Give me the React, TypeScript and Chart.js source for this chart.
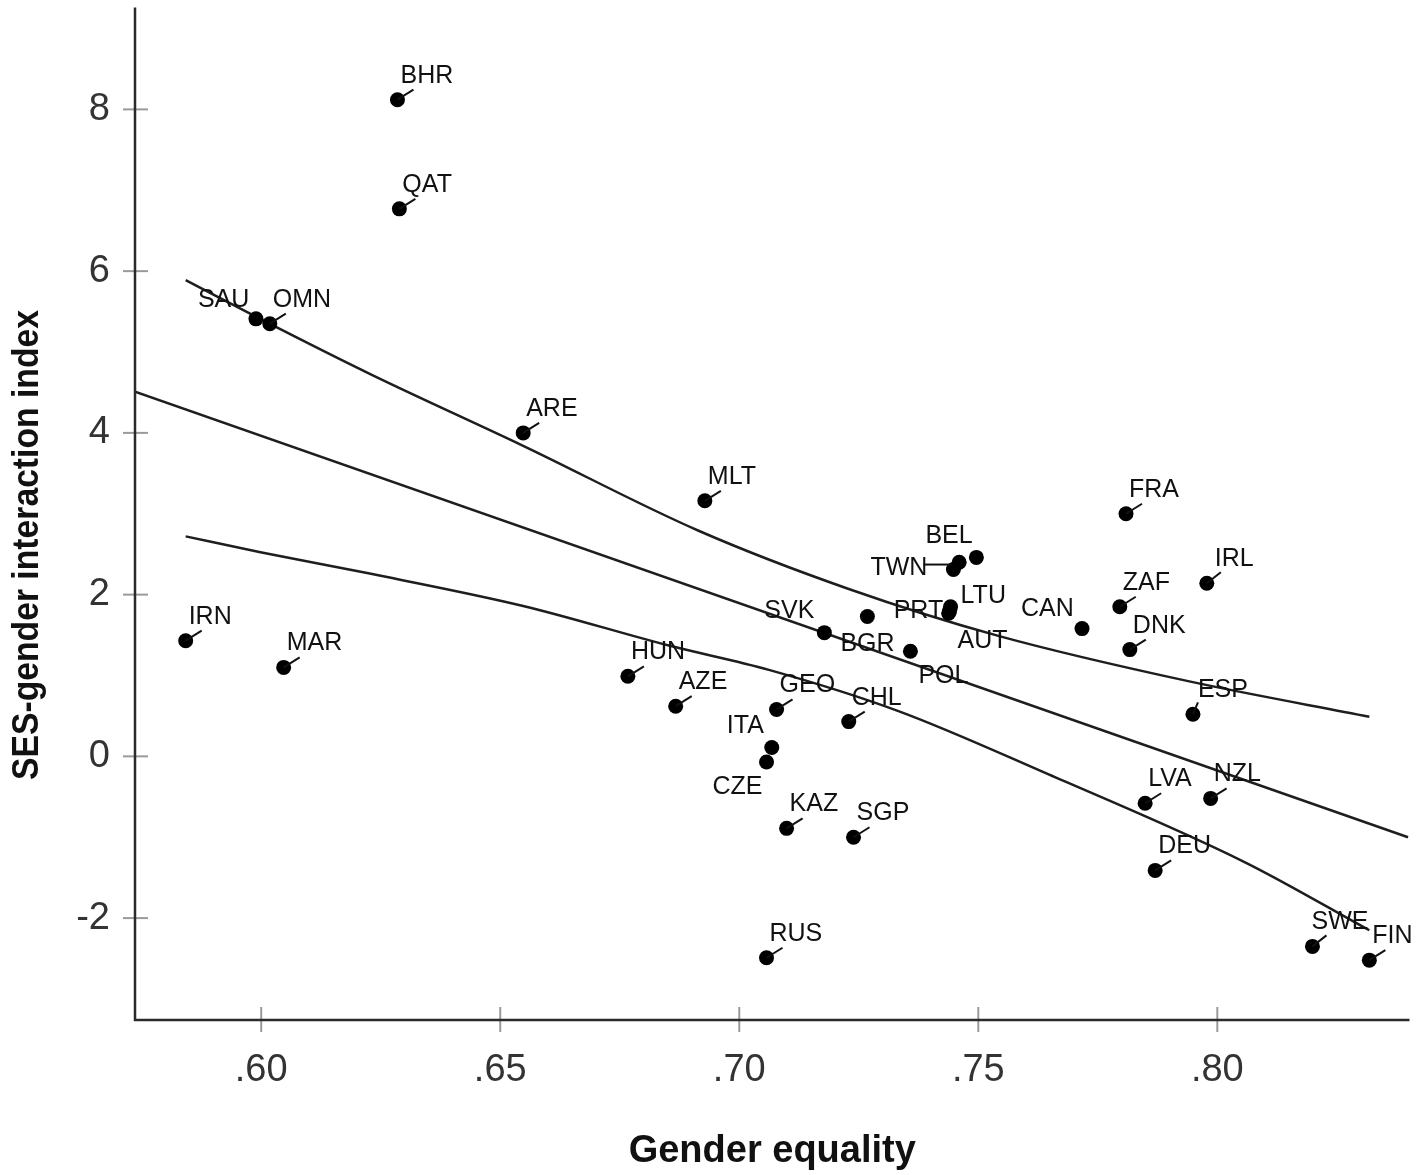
import { useEffect, useRef } from 'react';
import { Chart, registerables } from 'chart.js';

Chart.register(...registerables);

// country codes, gender equality (x), SES-gender interaction index (y)
const countries = [
  'BHR', 'QAT', 'SAU', 'OMN', 'ARE', 'MLT', 'FRA', 'BEL', 'TWN', '',
  'IRL', 'ZAF', 'LTU', 'PRT', 'AUT', 'CAN', 'DNK', 'SVK', 'BGR', 'POL',
  'IRN', 'MAR', 'HUN', 'AZE', 'GEO', 'CHL', 'ITA', 'CZE', 'ESP', 'LVA',
  'NZL', 'KAZ', 'SGP', 'DEU', 'SWE', 'FIN', 'RUS',
];
const genderEquality = [
  0.6285, 0.6289, 0.5989, 0.6018, 0.6548, 0.6928, 0.7809, 0.7496, 0.7448, 0.7460,
  0.7978, 0.7796, 0.7442, 0.7438, 0.7440, 0.7717, 0.7817, 0.7178, 0.7268, 0.7358,
  0.5842, 0.6047, 0.6767, 0.6867, 0.7078, 0.7229, 0.7068, 0.7057, 0.7949, 0.7849,
  0.7986, 0.7099, 0.7239, 0.7870, 0.8199, 0.8318, 0.7057,
];
const sesGenderIndex = [
  8.12, 6.77, 5.41, 5.35, 4.0, 3.16, 3.0, 2.46, 2.31, 2.4,
  2.14, 1.85, 1.85, 1.77, 1.8, 1.58, 1.32, 1.53, 1.73, 1.3,
  1.43, 1.1, 0.99, 0.62, 0.58, 0.43, 0.11, -0.07, 0.52, -0.58,
  -0.52, -0.89, -1.0, -1.41, -2.35, -2.52, -2.49,
];

// fitted line and 95% band
const fitX = [0.5736, 0.8399];
const fitY = [4.51, -1.0];
const upperX = [0.5842, 0.6001, 0.6227, 0.6548, 0.6915, 0.7229, 0.7542, 0.7939, 0.8318];
const upperY = [5.89, 5.4, 4.73, 3.84, 2.79, 2.07, 1.49, 0.93, 0.49];
const lowerX = [0.5842, 0.6001, 0.6227, 0.6548, 0.6853, 0.7062, 0.7333, 0.7646, 0.8058, 0.8318];
const lowerY = [2.72, 2.52, 2.26, 1.86, 1.37, 1.07, 0.56, -0.22, -1.31, -2.15];

const xTicks = [0.6, 0.65, 0.7, 0.75, 0.8];
const yTicks = [-2, 0, 2, 4, 6, 8];

const FONT = '"Liberation Sans", Arial, sans-serif';

type Placement = { dx: number; dy: number; leader: number[] | null };
const defaultPlacement: Placement = { dx: 3, dy: -17, leader: [0, 0, 16, -10] };
// labels that the original moved away from the default spot
const placements: Record<string, Placement> = {
  SAU: { dx: -58, dy: -12, leader: null },
  TWN: { dx: -83, dy: 5, leader: [-2, -5, -30, -5] },
  BEL: { dx: -51, dy: -14, leader: null },
  LTU: { dx: 10, dy: -4, leader: null },
  PRT: { dx: -55, dy: 5, leader: null },
  AUT: { dx: 8, dy: 37, leader: null },
  CAN: { dx: -61, dy: -13, leader: null },
  SVK: { dx: -60, dy: -15, leader: null },
  BGR: { dx: -27, dy: 35, leader: null },
  POL: { dx: 8, dy: 32, leader: null },
  ITA: { dx: -45, dy: -14, leader: null },
  CZE: { dx: -54, dy: 32, leader: null },
  ESP: { dx: 5, dy: -17, leader: [0, 0, 5, -12] },
  IRL: { dx: 8, dy: -17, leader: [0, 0, 14, -11] },
  SWE: { dx: -1, dy: -17, leader: [0, 0, 14, -11] },
};

const decorPlugin = {
  id: 'decor',
  afterDatasetsDraw(chart: any) {
    const { ctx, chartArea, scales } = chart;
    const { left, right, top, bottom } = chartArea;
    ctx.save();

    // tick marks crossing the axes
    ctx.strokeStyle = '#9a9a9a';
    ctx.lineWidth = 2;
    xTicks.forEach((v) => {
      const px = scales.x.getPixelForValue(v);
      ctx.beginPath();
      ctx.moveTo(px, bottom - 13);
      ctx.lineTo(px, bottom + 12);
      ctx.stroke();
    });
    yTicks.forEach((v) => {
      const py = scales.y.getPixelForValue(v);
      ctx.beginPath();
      ctx.moveTo(left - 12, py);
      ctx.lineTo(left + 13, py);
      ctx.stroke();
    });

    // axis lines
    ctx.strokeStyle = '#2a2a2a';
    ctx.lineWidth = 2.5;
    ctx.beginPath();
    ctx.moveTo(left, top);
    ctx.lineTo(left, bottom);
    ctx.lineTo(right, bottom);
    ctx.stroke();

    // point labels with leader lines
    const meta = chart.getDatasetMeta(0);
    ctx.fillStyle = '#111';
    ctx.strokeStyle = '#111';
    ctx.lineWidth = 2;
    ctx.font = `25px ${FONT}`;
    ctx.textBaseline = 'alphabetic';
    ctx.textAlign = 'left';
    meta.data.forEach((pt: any, i: number) => {
      const name = countries[i];
      if (!name) return;
      const p = placements[name] || defaultPlacement;
      if (p.leader) {
        ctx.beginPath();
        ctx.moveTo(pt.x + p.leader[0], pt.y + p.leader[1]);
        ctx.lineTo(pt.x + p.leader[2], pt.y + p.leader[3]);
        ctx.stroke();
      }
      ctx.fillText(name, pt.x + p.dx, pt.y + p.dy);
    });

    // axis titles
    ctx.fillStyle = '#111';
    ctx.textAlign = 'center';
    ctx.font = `bold 38px ${FONT}`;
    ctx.fillText('Gender equality', (left + right) / 2, 1162);

    const yTitle = 'SES-gender interaction index';
    ctx.font = `bold 37px ${FONT}`;
    const w = ctx.measureText(yTitle).width;
    ctx.translate(38, 545);
    ctx.rotate(-Math.PI / 2);
    ctx.scale(470 / w, 1);
    ctx.fillText(yTitle, 0, 0);

    ctx.restore();
  },
};

export default function App() {
  const canvasRef = useRef<HTMLCanvasElement>(null);
  const chartRef = useRef<any>(null);

  useEffect(() => {
    if (!canvasRef.current) return;
    if (chartRef.current) chartRef.current.destroy();

    const points = countries.map((_, i) => ({ x: genderEquality[i], y: sesGenderIndex[i] }));
    const toXY = (xs: number[], ys: number[]) => xs.map((x, i) => ({ x, y: ys[i] }));
    const lineStyle = {
      showLine: true,
      pointRadius: 0,
      borderColor: '#1e1e1e',
      borderWidth: 2.5,
      fill: false,
    };

    chartRef.current = new Chart(canvasRef.current, {
      type: 'scatter',
      data: {
        datasets: [
          {
            data: points,
            pointRadius: 7.5,
            pointBackgroundColor: '#000',
            pointBorderWidth: 0,
          },
          { data: toXY(fitX, fitY), ...lineStyle },
          { data: toXY(upperX, upperY), ...lineStyle, cubicInterpolationMode: 'monotone' },
          { data: toXY(lowerX, lowerY), ...lineStyle, cubicInterpolationMode: 'monotone' },
        ] as any,
      },
      options: {
        animation: false,
        responsive: true,
        maintainAspectRatio: false,
        layout: { padding: { top: 6, right: 2, left: 0, bottom: 0 } },
        plugins: {
          legend: { display: false },
          tooltip: { enabled: false },
        },
        scales: {
          x: {
            type: 'linear',
            min: 0.5736,
            max: 0.8402,
            grid: { display: false, drawTicks: false },
            border: { display: false },
            afterBuildTicks: (s: any) => {
              s.ticks = xTicks.map((value) => ({ value }));
            },
            afterFit: (s: any) => {
              s.height = 155;
              s.paddingLeft = 0;
              s.paddingRight = 0;
            },
            ticks: {
              color: '#333',
              padding: 28,
              font: { size: 38, family: FONT },
              callback: (v: any) => '.' + Math.round(Number(v) * 100),
            },
          },
          y: {
            type: 'linear',
            min: -3.26,
            max: 9.26,
            grid: { display: false, drawTicks: false },
            border: { display: false },
            afterBuildTicks: (s: any) => {
              s.ticks = yTicks.map((value) => ({ value }));
            },
            afterFit: (s: any) => {
              s.width = 135;
              s.paddingTop = 0;
              s.paddingBottom = 0;
            },
            ticks: {
              color: '#333',
              padding: 25,
              font: { size: 38, family: FONT },
              callback: (v: any) => String(v),
            },
          },
        },
      },
      plugins: [decorPlugin],
    });

    return () => {
      if (chartRef.current) {
        chartRef.current.destroy();
        chartRef.current = null;
      }
    };
  }, []);

  return (
    <div style={{ position: 'absolute', left: 0, top: 0, width: 1417, height: 1175, background: '#fff' }}>
      <canvas ref={canvasRef}></canvas>
    </div>
  );
}
